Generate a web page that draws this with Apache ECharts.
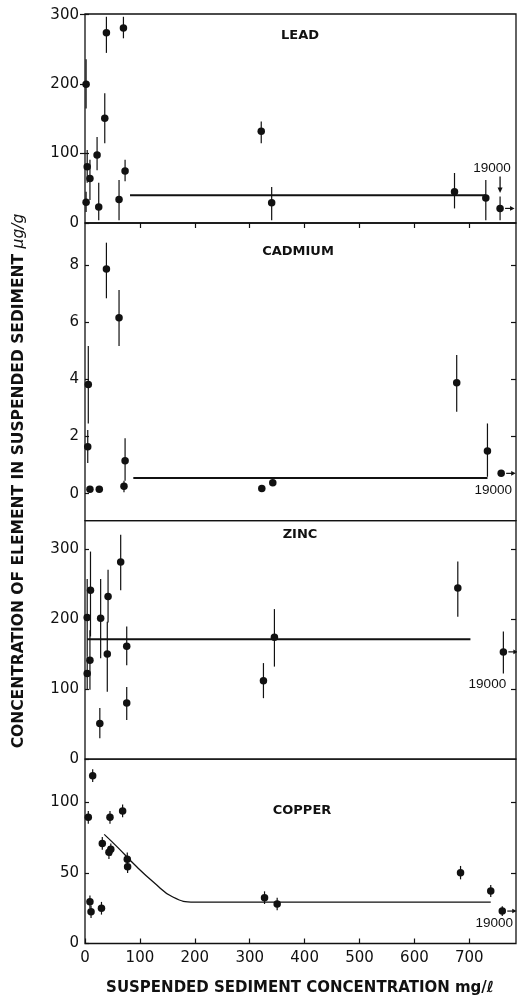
<!DOCTYPE html>
<html><head><meta charset="utf-8">
<script src="https://cdn.jsdelivr.net/npm/echarts@6/dist/echarts.min.js"></script>
<style>html,body{margin:0;padding:0;background:#fff}#c{width:517px;height:998px}</style>
</head><body><div id="c"></div>
<script>
// ---------- data ----------
const xTicks = [0, 100, 200, 300, 400, 500, 600, 700];
const farLabel = '19000';

const leadTicks = [0, 100, 200, 300];
const leadX  = [2, 4, 2, 9, 22, 25, 36, 39, 62, 70, 73, 321, 340, 673, 730, 756];
const leadY  = [200, 81, 30, 64, 98, 23, 151, 274, 34, 281, 75, 132, 29, 45, 36, 21];
const leadLo = [165, 58, 16, 33, 76, 4, 115, 245, 4, 266, 60, 115, 4, 21, 4, 4];
const leadHi = [236, 105, 45, 91, 124, 58, 187, 297, 62, 297, 91, 146, 52, 72, 62, 38];
const leadFitX = [82, 730];
const leadFitY = [40, 40];

const cadTicks = [0, 2, 4, 6, 8];
const cadX  = [39, 62, 6, 5, 9, 26, 71, 73, 322, 342, 677, 733, 758];
const cadY  = [7.88, 6.17, 3.83, 1.64, 0.15, 0.15, 0.26, 1.15, 0.18, 0.38, 3.89, 1.49, 0.71];
const cadLo = [6.85, 5.18, 2.46, 1.07, null, null, 0.05, 0.45, null, null, 2.87, 0.59, null];
const cadHi = [8.80, 7.14, 5.18, 2.23, null, null, 0.45, 1.94, null, null, 4.86, 2.46, null];
const cadFitX = [88, 733];
const cadFitY = [0.55, 0.55];

const zincTicks = [0, 100, 200, 300];
const zincX  = [4, 4, 10, 9, 28.5, 27, 42, 40.6, 65, 76, 76, 325, 345, 679, 762];
const zincY  = [202, 122, 241, 141, 201, 51, 232, 150, 281, 161, 80, 112, 174, 244, 153];
const zincLo = [146, 99, 175, 99, 144, 30, 195, 96, 241, 134, 56, 87, 132, 203, 122];
const zincHi = [257, 146, 296, 184, 257, 73, 270, 196, 320, 189, 103, 137, 214, 282, 182];
const zincFitX = [4, 702];
const zincFitY = [171, 171];

const cuTicks = [0, 50, 100];
const cuX  = [14, 6, 9, 11, 30, 31.5, 45.5, 43.6, 47, 68.5, 77, 77.6, 327, 350, 684, 739, 760];
const cuY  = [119, 89.5, 29.6, 22.6, 25, 71, 89.5, 64.7, 66.8, 94, 59.7, 54.5, 32.5, 28, 50.2, 37.2, 23];
const cuLo = [114.5, 85, 25, 18, 20.5, 66.5, 85, 60, 62, 89.5, 55, 50, 28, 23.5, 45.5, 33, 19.5];
const cuHi = [123.5, 94, 34, 27, 29.5, 75.5, 94, 69, 71, 98.5, 64.5, 59, 37, 32.5, 55, 41.5, 26.5];
const cuFitX = [35, 60, 90, 125, 160, 200, 739];
const cuFitY = [77.4, 68, 56, 43.5, 33, 29.4, 29.4];

// ---------- layout / styles ----------
const INK = '#111';
const LEFT = 85, RIGHT = 1;
const XMAX = 785;
const panels = [
  {name:'LEAD', x:leadX, y:leadY, lo:leadLo, hi:leadHi, fx:leadFitX, fy:leadFitY, ticks:leadTicks,
   min:0, max:301, top:14, height:209, fitW:2, smooth:false, lab:[300, 36], far:[-8,-40], down:true},
  {name:'CADMIUM', x:cadX, y:cadY, lo:cadLo, hi:cadHi, fx:cadFitX, fy:cadFitY, ticks:cadTicks,
   min:-0.95, max:9.49, top:223, height:297.7, fitW:2, smooth:false, lab:[298, 252], far:[-8,17], down:false},
  {name:'ZINC', x:zincX, y:zincY, lo:zincLo, hi:zincHi, fx:zincFitX, fy:zincFitY, ticks:zincTicks,
   min:0, max:340, top:520.7, height:238.5, fitW:2, smooth:false, lab:[300, 535], far:[-16,32], down:false},
  {name:'COPPER', x:cuX, y:cuY, lo:cuLo, hi:cuHi, fx:cuFitX, fy:cuFitY, ticks:cuTicks,
   min:0, max:130.7, top:759.2, height:184.3, fitW:1.3, smooth:0.5, lab:[302, 811], far:[-8,12], down:false}
];

const grids = [], xAxes = [], yAxes = [], series = [], graphics = [];

function errRender(params, api) {
  const x = api.value(0), lo = api.value(1), hi = api.value(2);
  const a = api.coord([x, lo]), b = api.coord([x, hi]);
  return {type:'line', shape:{x1:a[0], y1:a[1], x2:b[0], y2:b[1]}, style:{stroke:INK, lineWidth:1.2}};
}
function arrowRender(down) {
  return function(params, api) {
    const p = api.coord([api.value(0), api.value(1)]);
    const ch = [
      {type:'line', shape:{x1:p[0]+5, y1:p[1], x2:p[0]+11, y2:p[1]}, style:{stroke:INK, lineWidth:1.2}},
      {type:'polygon', shape:{points:[[p[0]+14.5, p[1]], [p[0]+10, p[1]-2.3], [p[0]+10, p[1]+2.3]]}, style:{fill:INK}}
    ];
    if (down) {
      ch.push({type:'line', shape:{x1:p[0], y1:p[1]-32, x2:p[0], y2:p[1]-20}, style:{stroke:INK, lineWidth:1.3}});
      ch.push({type:'polygon', shape:{points:[[p[0], p[1]-15.5], [p[0]-2.5, p[1]-21], [p[0]+2.5, p[1]-21]]}, style:{fill:INK}});
    }
    return {type:'group', children:ch};
  };
}

panels.forEach((P, i) => {
  grids.push({left:LEFT, right:RIGHT, top:P.top, height:P.height, show:true,
    borderColor:INK, borderWidth:1.3, backgroundColor:'transparent', outerBoundsMode:'none', containLabel:false});
  const last = i === panels.length - 1;
  xAxes.push({type:'value', gridIndex:i, min:0, max:XMAX, position:'bottom',
    axisLine:{show:false}, splitLine:{show:false},
    axisTick:{show:last, inside:true, length:5, customValues:xTicks, lineStyle:{color:INK, width:1.2}},
    axisLabel:{show:last, customValues:xTicks, color:INK, fontSize:15, fontFamily:'DejaVu Sans', margin:7}});
  yAxes.push({type:'value', gridIndex:i, min:P.min, max:P.max, position:'left',
    axisLine:{show:false}, splitLine:{show:false},
    axisTick:{show:true, inside:true, length:4, customValues:P.ticks, lineStyle:{color:INK, width:1.2}},
    axisLabel:{show:true, customValues:P.ticks, color:INK, fontSize:15, fontFamily:'DejaVu Sans', margin:6}});
  yAxes.push({type:'value', gridIndex:i, min:P.min, max:P.max, position:'right',
    axisLine:{show:false}, splitLine:{show:false},
    axisTick:{show:true, inside:true, length:5, customValues:P.ticks.filter(v => v > 0), lineStyle:{color:INK, width:1.2}},
    axisLabel:{show:false}});
  const xi = i, yi = 2 * i;
  const err = [];
  P.x.forEach((x, k) => { if (P.lo[k] != null) err.push([x, P.lo[k], P.hi[k]]); });
  series.push({type:'custom', xAxisIndex:xi, yAxisIndex:yi, data:err, renderItem:errRender, z:3, silent:true});
  const n = P.x.length;
  const pts = P.x.map((x, k) => {
    const item = {value:[x, P.y[k]]};
    if (k === n - 1) item.label = {show:true, formatter:farLabel, position:'inside', offset:P.far,
      color:INK, fontSize:13.5, fontFamily:'Liberation Sans'};
    return item;
  });
  series.push({type:'scatter', xAxisIndex:xi, yAxisIndex:yi, data:pts, symbol:'circle', symbolSize:7.5,
    itemStyle:{color:INK, opacity:1}, z:5, silent:true});
  series.push({type:'line', xAxisIndex:xi, yAxisIndex:yi, data:P.fx.map((x, k) => [x, P.fy[k]]),
    showSymbol:false, smooth:P.smooth, lineStyle:{color:INK, width:P.fitW, opacity:1}, z:4, silent:true});
  series.push({type:'custom', xAxisIndex:xi, yAxisIndex:yi, data:[[P.x[n-1], P.y[n-1]]],
    renderItem:arrowRender(P.down), z:4, silent:true});
  graphics.push({type:'text', x:P.lab[0], y:P.lab[1],
    style:{text:P.name, fill:INK, font:'bold 13px "DejaVu Sans"', textAlign:'center', textVerticalAlign:'middle'}});
});

xAxes.push({type:'value', gridIndex:0, min:0, max:XMAX, position:'top',
  axisLine:{show:false}, splitLine:{show:false},
  axisTick:{show:true, inside:true, length:5, customValues:xTicks.filter(v => v > 0), lineStyle:{color:INK, width:1.2}},
  axisLabel:{show:false}});

graphics.push({type:'text', x:19, y:481, rotation:Math.PI/2,
  style:{text:'CONCENTRATION OF ELEMENT IN SUSPENDED SEDIMENT {u|μg/g}', fill:INK,
    font:'bold 15.5px "DejaVu Sans"', textAlign:'center', textVerticalAlign:'middle',
    rich:{u:{fontStyle:'italic', fontWeight:'normal', fontSize:15.5, fontFamily:'DejaVu Sans', fill:INK}}}});
graphics.push({type:'text', x:300, y:988,
  style:{text:'SUSPENDED SEDIMENT CONCENTRATION mg/ℓ', fill:INK, font:'bold 15px "DejaVu Sans"',
    textAlign:'center', textVerticalAlign:'middle'}});

const chart = echarts.init(document.getElementById('c'), null, {renderer:'canvas'});
chart.setOption({
  animation:false, backgroundColor:'#fff',
  grid:grids, xAxis:xAxes, yAxis:yAxes, series:series, graphic:graphics
});
</script></body></html>
